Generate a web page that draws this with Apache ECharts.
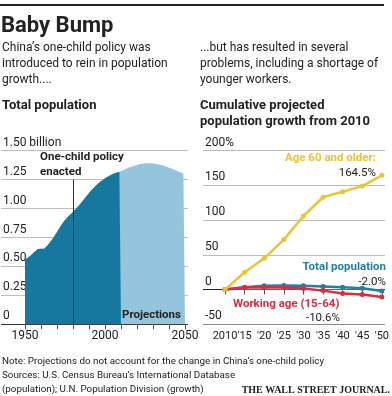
<!DOCTYPE html>
<html><head><meta charset="utf-8">
<script src="https://cdn.jsdelivr.net/npm/echarts@6/dist/echarts.min.js"></script>
<style>html,body{margin:0;padding:0;background:#fff}#c{width:392px;height:396px}</style>
</head><body><div id="c"></div>
<script>
// ---- Left chart: Total population (billions) ----
var histStartYear = 1950;
var popHistorical = [0.560,0.568,0.578,0.590,0.602,0.614,0.626,0.638,0.650,0.657,
  0.652,0.646,0.652,0.664,0.680,0.697,0.716,0.735,0.755,0.776,
  0.798,0.820,0.842,0.864,0.884,0.902,0.918,0.932,0.945,0.958,
  0.971,0.985,1.000,1.016,1.032,1.049,1.066,1.083,1.100,1.118,
  1.135,1.151,1.166,1.180,1.194,1.207,1.219,1.231,1.242,1.252,
  1.261,1.270,1.278,1.285,1.292,1.298,1.304,1.310,1.314,1.318,1.322];
var projStartYear = 2010;
var popProjected = [1.322,1.329,1.336,1.342,1.348,1.354,1.359,1.364,1.369,1.373,
  1.377,1.381,1.384,1.387,1.389,1.391,1.392,1.392,1.392,1.391,
  1.390,1.388,1.386,1.383,1.380,1.377,1.373,1.369,1.364,1.359,
  1.354,1.349,1.343,1.337,1.331,1.325,1.319,1.313,1.307,1.300,1.293];
var policyYear = 1980;
var leftYTicks = [0, 0.25, 0.5, 0.75, 1.0, 1.25, 1.5];
var leftXLabels = [1950, 2000, 2050];

// ---- Right chart: cumulative projected growth from 2010 (%) ----
var growthYears = [2010, 2015, 2020, 2025, 2030, 2035, 2040, 2045, 2050];
var growthYearLabels = ['2010', "'15", "'20", "'25", "'30", "'35", "'40", "'45", "'50"];
var age60Older = [0, 25, 45, 72, 106, 133, 141, 149, 164.5];
var totalPop = [0, 3.5, 5.5, 6, 5.5, 4.5, 3.5, 2, -2.0];
var workingAge = [0, 3, 3, 3, 1.5, -1.5, -5.5, -7, -10.6];
var rightYTicks = [-50, 0, 50, 100, 150, 200];

function pairs(start, arr){ var o=[]; for (var i=0;i<arr.length;i++) o.push([start+i, arr[i]]); return o; }
function zip(xs, ys){ return xs.map(function(x,i){return [x, ys[i]];}); }

var FONT = 'Roboto, "Noto Sans", sans-serif';
var TXT = '#222';
var DARK = '#17789f', LIGHT = '#95c5dc';
var YEL = '#efc232', BLU = '#1f7fa6', RED = '#e12a3c';

// full-period series: historical followed by projections (skip duplicate 2010)
var popAll = pairs(histStartYear, popHistorical).concat(pairs(projStartYear, popProjected).slice(1));

var chart = echarts.init(document.getElementById('c'), null, {renderer:'canvas'});
var TOP = 150.7, BOT = 71.7;

function textEl(t, x, y, size, weight, color, align){
  return {type:'text', x:x, y:y, style:{text:t, font: (weight||'normal')+' '+size+'px '+FONT, fill:color||TXT, textAlign:align||'left', textVerticalAlign:'middle'}, z:100};
}

var option = {
  animation:false,
  grid:[
    {left:0, right:204, top:TOP, bottom:BOT, containLabel:false},
    {left:25, right:207, top:TOP, bottom:BOT, containLabel:false},
    {left:203, right:7, top:TOP, bottom:BOT, containLabel:false},
    {left:225, right:9, top:TOP, bottom:BOT, containLabel:false}
  ],
  xAxis:[
    {gridIndex:0, type:'value', min:0, max:1, show:false},
    {gridIndex:1, type:'value', min:1950, max:2050, interval:10,
      axisLine:{show:true, lineStyle:{color:'#333', width:1.2}},
      axisTick:{show:true, length:5, lineStyle:{color:'#555'}},
      splitLine:{show:false},
      axisLabel:{color:TXT, fontFamily:FONT, fontSize:12, margin:6, hideOverlap:false, showMinLabel:true, showMaxLabel:true,
        formatter:function(v){ return leftXLabels.indexOf(v)>=0 ? String(v) : ''; }}},
    {gridIndex:2, type:'value', min:0, max:1, show:false},
    {gridIndex:3, type:'value', min:2010, max:2050, interval:5,
      axisLine:{show:true, lineStyle:{color:'#666', width:1}},
      axisTick:{show:true, length:5, lineStyle:{color:'#555'}},
      splitLine:{show:false},
      axisLabel:{color:TXT, fontFamily:FONT, fontSize:11, margin:6, hideOverlap:false, showMinLabel:true, showMaxLabel:true,
        formatter:function(v){ var i=growthYears.indexOf(v); return i>=0?growthYearLabels[i]:''; }}}
  ],
  yAxis:[
    {gridIndex:0, type:'value', min:leftYTicks[0], max:leftYTicks[leftYTicks.length-1], interval:0.25,
      axisLine:{show:false}, axisTick:{show:false},
      splitLine:{show:true, lineStyle:{color:['#333','#bdbdbd','#bdbdbd','#bdbdbd','#bdbdbd','#bdbdbd','#bdbdbd'], width:1}},
      axisLabel:{inside:true, margin:2, verticalAlign:'bottom', padding:[0,0,2,0], color:TXT, fontFamily:FONT, fontSize:12,
        showMaxLabel:true, showMinLabel:true,
        formatter:function(v){ if (v===0) return '0'; if (v===1.5) return '1.50 billion'; return v.toFixed(2); }}},
    {gridIndex:1, type:'value', min:0, max:1.5, show:false, splitLine:{show:false}},
    {gridIndex:2, type:'value', min:rightYTicks[0], max:rightYTicks[rightYTicks.length-1], interval:50,
      axisLine:{show:false}, axisTick:{show:false},
      splitLine:{show:true, lineStyle:{color:['#888','#222','#bdbdbd','#bdbdbd','#bdbdbd','#bdbdbd'], width:1}},
      axisLabel:{inside:true, margin:2, verticalAlign:'bottom', padding:[0,0,2,0], color:TXT, fontFamily:FONT, fontSize:12,
        showMaxLabel:true, showMinLabel:true,
        formatter:function(v){ return v===200 ? '200%' : String(v); }}},
    {gridIndex:3, type:'value', min:-50, max:200, show:false, splitLine:{show:false}}
  ],
  series:[
    {type:'line', xAxisIndex:1, yAxisIndex:1, data:popAll, symbol:'none',
      lineStyle:{width:0}, areaStyle:{color:LIGHT, opacity:1}, z:2},
    {type:'line', xAxisIndex:1, yAxisIndex:1, data:pairs(histStartYear, popHistorical), symbol:'none',
      lineStyle:{width:0}, areaStyle:{color:DARK, opacity:1}, z:3,
      markLine:{silent:true, symbol:['none','none'], label:{show:false},
        lineStyle:{color:'#26394a', width:1, type:'solid'},
        data:[[{coord:[policyYear,0]},{coord:[policyYear,1.25]}]]}},
    {type:'line', xAxisIndex:3, yAxisIndex:3, data:zip(growthYears, totalPop), symbol:'circle', symbolSize:5,
      itemStyle:{color:BLU}, lineStyle:{color:BLU, width:2.5}, z:3},
    {type:'line', xAxisIndex:3, yAxisIndex:3, data:zip(growthYears, workingAge), symbol:'circle', symbolSize:5,
      itemStyle:{color:RED}, lineStyle:{color:RED, width:2.5}, z:4},
    {type:'line', xAxisIndex:3, yAxisIndex:3, data:zip(growthYears, age60Older), symbol:'circle', symbolSize:5,
      itemStyle:{color:YEL}, lineStyle:{color:YEL, width:2.5}, z:5}
  ],
  graphic:[
    {type:'rect', shape:{x:0, y:4, width:384, height:2}, style:{fill:'#222'}},
    textEl('Baby Bump', 1, 26, 22, 'bold'),
    textEl('China\u2019s one-child policy was', 2, 48, 12),
    textEl('introduced to rein in population', 2, 64, 12),
    textEl('growth....', 2, 80, 12),
    textEl('...but has resulted in several', 200, 48, 12),
    textEl('problems, including a shortage of', 200, 64, 12),
    textEl('younger workers.', 200, 80, 12),
    textEl('Total population', 2, 106, 13, 'bold'),
    textEl('Cumulative projected', 200, 106, 13, 'bold'),
    textEl('population growth from 2010', 200, 122, 13, 'bold'),
    textEl('One-child policy', 40, 157, 11.5, 'bold'),
    textEl('enacted', 40, 172, 11.5, 'bold'),
    textEl('Projections', 122, 315, 11.5, 'bold'),
    textEl('Age 60 and older:', 376, 158, 11.5, 'bold', YEL, 'right'),
    textEl('164.5%', 376, 173, 11.5, 'normal', TXT, 'right'),
    textEl('Total population', 386, 267, 11.5, 'bold', BLU, 'right'),
    textEl('-2.0%', 386, 282, 11.5, 'normal', TXT, 'right'),
    textEl('Working age (15-64)', 233, 304, 11.5, 'bold', RED, 'left'),
    textEl('-10.6%', 340, 318, 11.5, 'normal', TXT, 'right'),
    textEl('Note: Projections do not account for the change in China\u2019s one-child policy', 2, 362, 9.8),
    textEl('Sources: U.S. Census Bureau\u2019s International Database', 2, 376, 9.8),
    textEl('(population); U.N. Population Division (growth)', 2, 390, 9.8),
    {type:'text', x:390, y:390, z:100, style:{text:'THE WALL STREET JOURNAL.', font:'bold 10px "Liberation Serif", "DejaVu Serif", serif', fill:'#222', textAlign:'right', textVerticalAlign:'middle'}}
  ]
};
chart.setOption(option);
</script></body></html>
